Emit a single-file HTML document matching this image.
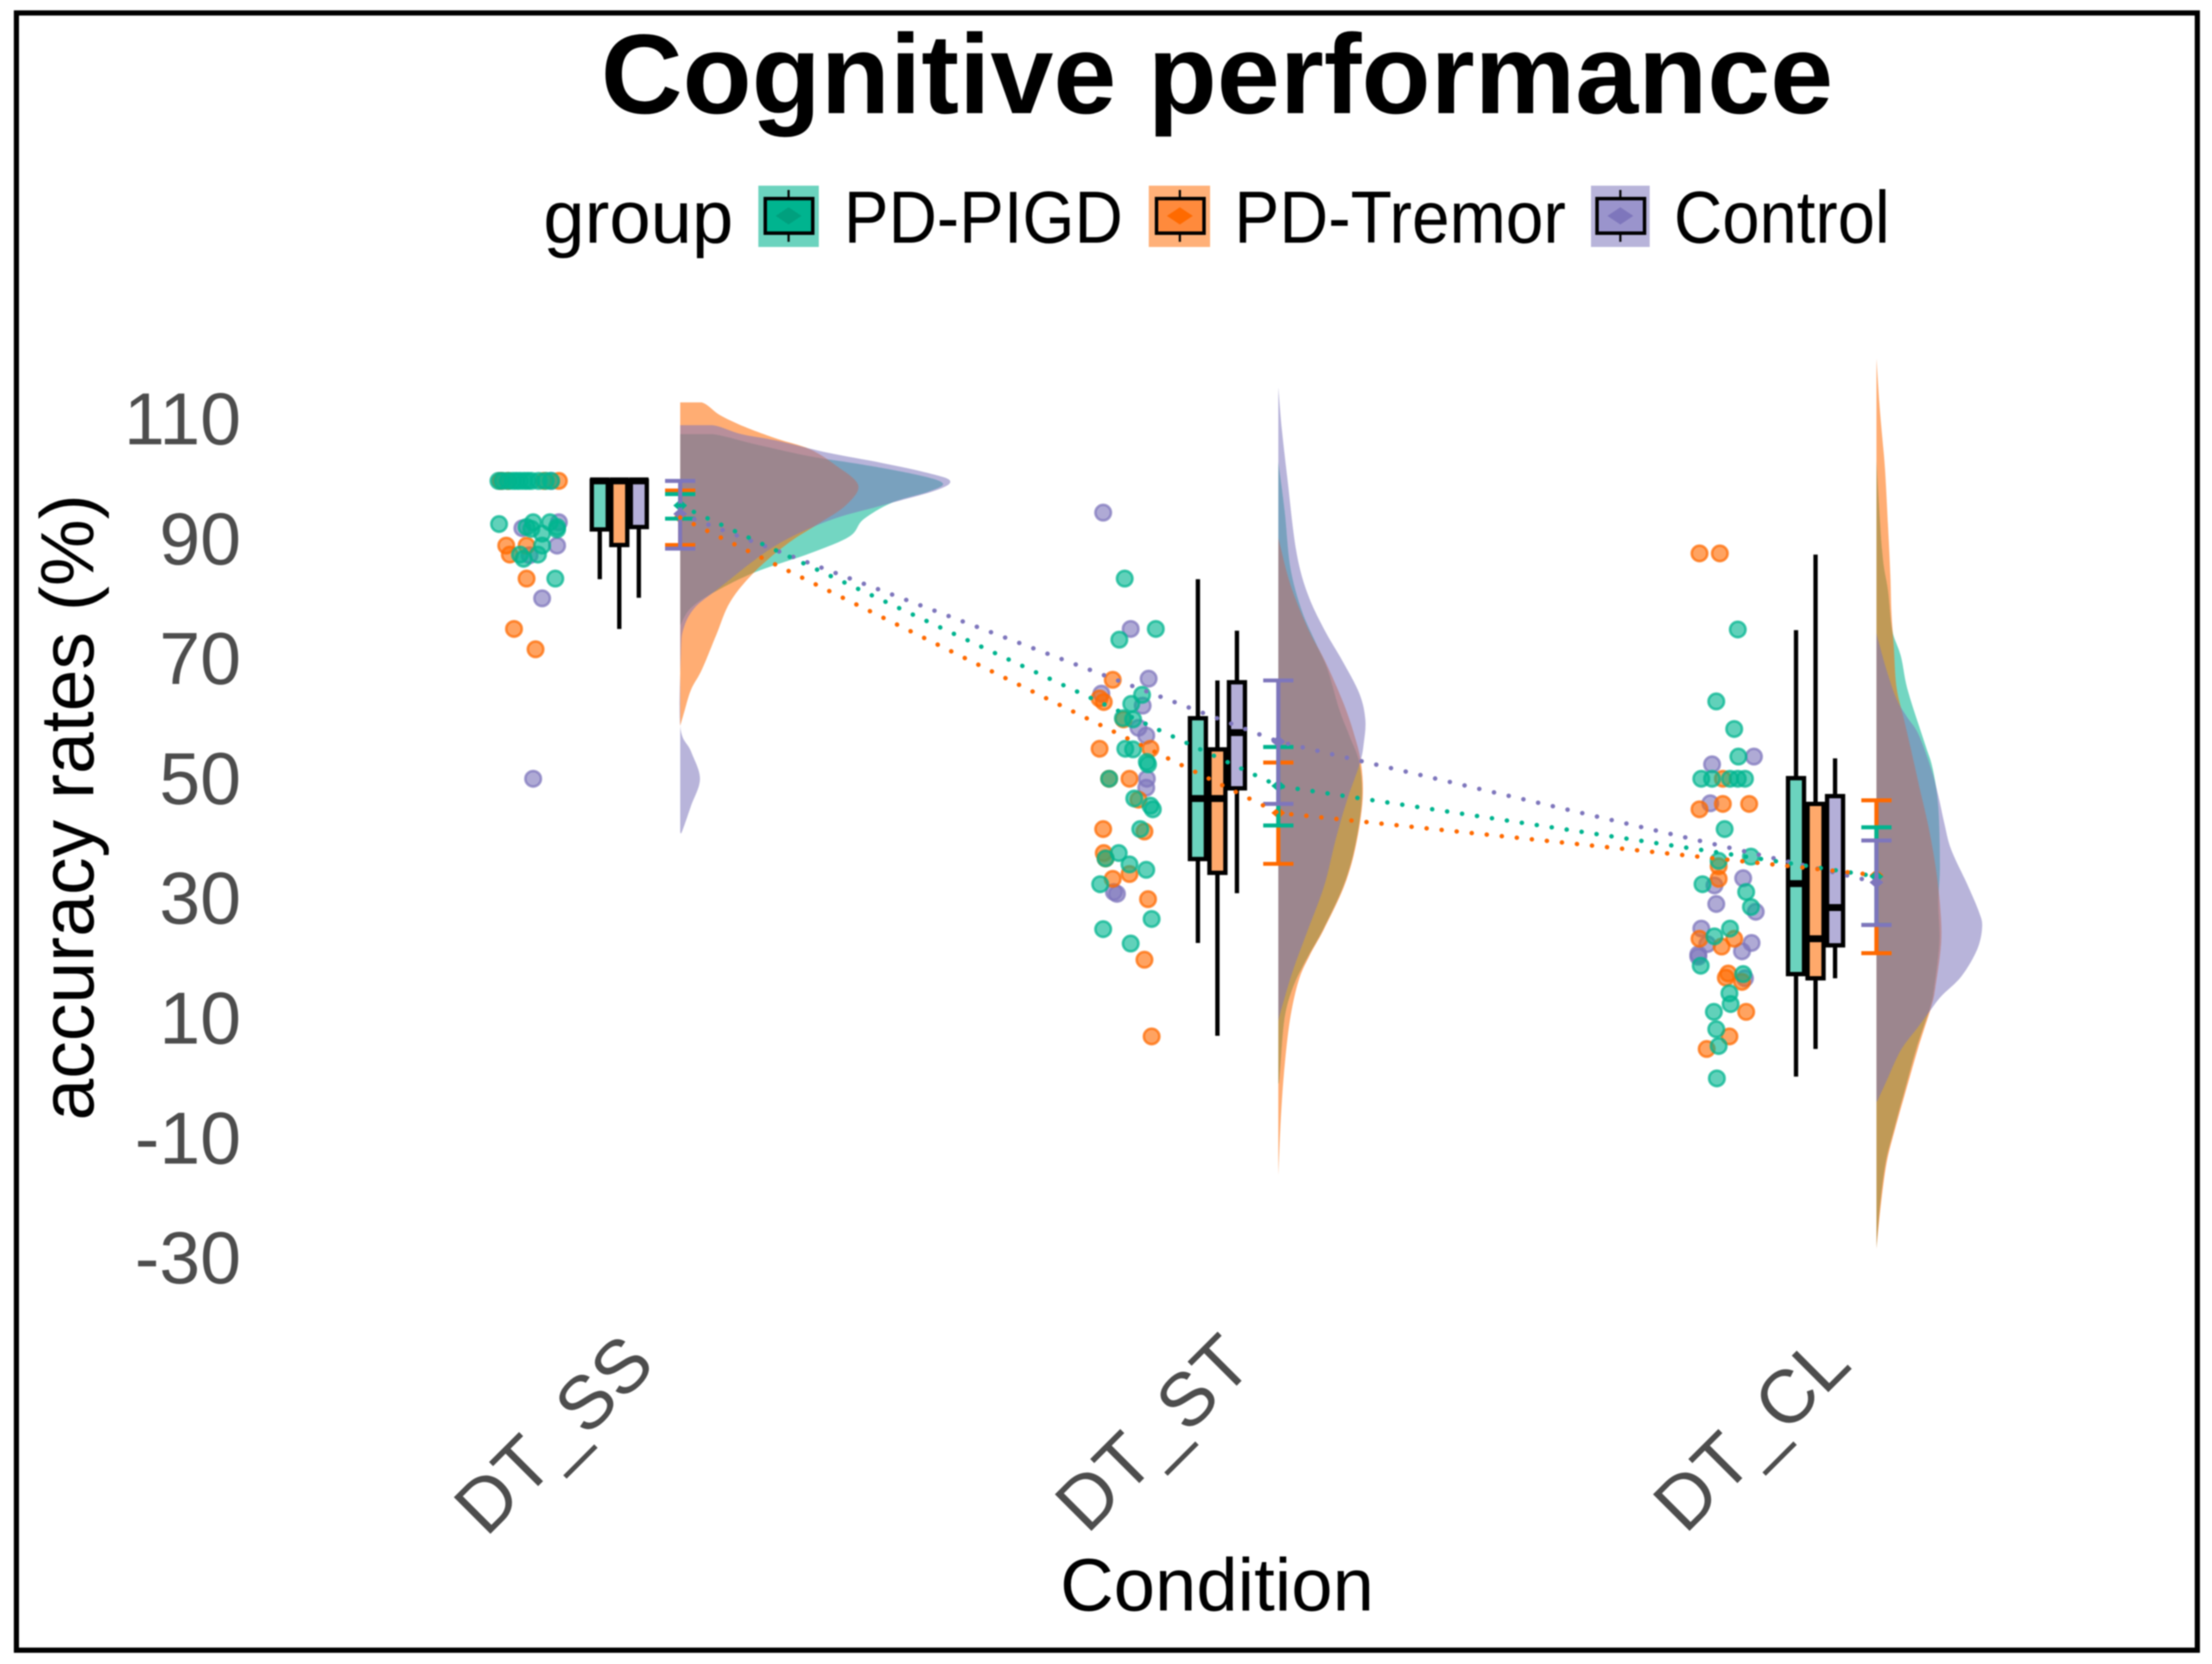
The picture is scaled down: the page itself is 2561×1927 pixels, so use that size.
<!DOCTYPE html>
<html lang="en">
<head>
<meta charset="utf-8">
<title>Cognitive performance</title>
<style>
html,body{margin:0;padding:0;background:#fff;width:2561px;height:1927px;overflow:hidden}
svg{display:block;filter:blur(0.9px)}
text{font-family:"Liberation Sans",sans-serif}
</style>
</head>
<body>
<svg id="chart" xmlns="http://www.w3.org/2000/svg" width="2561" height="1927" viewBox="0 0 2561 1927">
  <rect x="0" y="0" width="2561" height="1927" fill="#fff"/>
  <rect x="19" y="15" width="2525" height="1896" fill="none" stroke="#000" stroke-width="6"/>
  <text x="1409" y="131" font-size="131" font-weight="700" text-anchor="middle" fill="#000">Cognitive performance</text>
  <text x="629" y="281" font-size="86" fill="#000">group</text>
  <g>
    <rect x="878" y="215" width="70" height="71" fill="#00B48F" fill-opacity=".58"/>
    <line x1="913" x2="913" y1="220" y2="280" stroke="#000" stroke-width="2.5"/>
    <rect x="886" y="230" width="55" height="40" fill="#00B48F" stroke="#000" stroke-width="4"/>
    <path d="M898 250L913 240L928 250L913 260Z" fill="#00A07E"/>
    <text x="977" y="281" font-size="85" textLength="323" lengthAdjust="spacingAndGlyphs" fill="#000">PD-PIGD</text>
  </g>
  <g>
    <rect x="1330" y="215" width="71" height="71" fill="#FF6A00" fill-opacity=".53"/>
    <line x1="1366" x2="1366" y1="220" y2="280" stroke="#000" stroke-width="2.5"/>
    <rect x="1339" y="230" width="55" height="40" fill="#FF8A3C" stroke="#000" stroke-width="4"/>
    <path d="M1351 250L1366 240L1381 250L1366 260Z" fill="#FF6A00"/>
    <text x="1429" y="281" font-size="85" textLength="384" lengthAdjust="spacingAndGlyphs" fill="#000">PD-Tremor</text>
  </g>
  <g>
    <rect x="1842" y="215" width="68" height="71" fill="#7E76BC" fill-opacity=".55"/>
    <line x1="1876" x2="1876" y1="220" y2="280" stroke="#000" stroke-width="2.5"/>
    <rect x="1849" y="230" width="55" height="40" fill="#9A94CC" stroke="#000" stroke-width="4"/>
    <path d="M1861 250L1876 240L1891 250L1876 260Z" fill="#7E76BC"/>
    <text x="1938" y="281" font-size="85" textLength="250" lengthAdjust="spacingAndGlyphs" fill="#000">Control</text>
  </g>
  <text transform="translate(108,935) rotate(-90)" font-size="87" text-anchor="middle" fill="#000">accuracy rates (%)</text>
  <text x="1409" y="1865" font-size="86" text-anchor="middle" fill="#000">Condition</text>
  <g id="y-ticks"></g>
  <g id="x-ticks"></g>
  <g id="clouds"></g>
  <g id="points"></g>
  <g id="boxes"></g>
  <g id="errors"></g>
  <g id="lines"></g>
</svg>
<script>
const categories = ['DT_SS', 'DT_ST', 'DT_CL'];
const groupNames = ['pd-pigd', 'pd-tremor', 'control'];
const yTickLabels = [110, 90, 70, 50, 30, 10, -10, -30];

// Box-plot statistics, one entry per condition
const pigdWhiskerLow = [83.6, 22.9, 0.6];
const pigdQ1 = [91.9, 36.9, 17.7];
const pigdMedian = [100, 47, 32.8];
const pigdQ3 = [100, 60.4, 50.4];
const pigdWhiskerHigh = [100, 83.6, 75.1];
const tremorWhiskerLow = [75.3, 7.4, 5.2];
const tremorQ1 = [89.3, 34.6, 17];
const tremorMedian = [100, 47, 23.6];
const tremorQ3 = [100, 55.2, 46.1];
const tremorWhiskerHigh = [100, 66.7, 87.7];
const controlWhiskerLow = [80.5, 31.2, 17];
const controlQ1 = [92.3, 48.7, 22.5];
const controlMedian = [100, 58, 28.8];
const controlQ3 = [100, 66.4, 47.4];
const controlWhiskerHigh = [100, 75, 53.7];

// Means and confidence limits
const pigdMean = [95.9, 49.1, 34];
const pigdCiLow = [93.7, 42.5, 25.9];
const pigdCiHigh = [97.8, 55.6, 42.2];
const tremorMean = [93.9, 44.6, 34.2];
const tremorCiLow = [89.3, 36.1, 21.2];
const tremorCiHigh = [98.4, 53, 46.7];
const controlMean = [94.5, 56.5, 33];
const controlCiLow = [88.7, 46.1, 25.9];
const controlCiHigh = [100, 66.7, 40];

// Raw observations (value, and horizontal jitter in category units)
const ssPigdValues = [100,100,100,100,100,100,100,100,100,100,100,100,92.8,93.1,92.3,92,93.1,92.3,91.9,91.2,89.2,87.7,87.7,87,83.7];
const ssPigdJitter = [-.202,-.195,-.186,-.178,-.172,-.166,-.159,-.153,-.147,-.135,-.123,-.114,-.201,-.144,-.155,-.147,-.116,-.104,-.104,-.129,-.129,-.136,-.166,-.16,-.107];
const ssTremorValues = [100,100,100,100,89.2,87.7,89.2,83.7,75.3,71.9];
const ssTremorJitter = [-.198,-.186,-.126,-.101,-.189,-.183,-.155,-.155,-.176,-.14];
const ssControlValues = [100,100,92.1,93.1,89.2,87.6,80.4,50.3];
const ssControlJitter = [-.198,-.114,-.162,-.101,-.104,-.15,-.129,-.144];
const stPigdValues = [83.7,75.3,73.5,64.3,62.8,60.4,60.2,55.3,55.2,53.1,52.7,50.3,47,45.2,45.8,41.9,37,37.9,36,35.1,32.7,26.9,25.2,22.8];
const stPigdJitter = [-.155,-.103,-.164,-.126,-.144,-.158,-.141,-.154,-.141,-.118,-.116,-.181,-.139,-.108,-.112,-.129,-.187,-.165,-.147,-.119,-.196,-.11,-.191,-.145];
const stTremorValues = [66.8,63.7,63.1,60.2,55.3,55.3,50.3,50.3,46.8,41.9,41.5,37.9,37,34.4,33.6,30.2,20.1,7.3];
const stTremorJitter = [-.175,-.197,-.19,-.157,-.197,-.112,-.147,-.181,-.132,-.191,-.122,-.19,-.187,-.147,-.175,-.116,-.122,-.11];
const stControlValues = [94.7,75.3,67,64.5,62.5,58.8,57.5,50.3,48.8,31.1,31.4];
const stControlJitter = [-.191,-.145,-.115,-.194,-.125,-.132,-.119,-.118,-.119,-.168,-.173];
const clPigdValues = [75.2,63.2,58.6,54,50.3,50.3,50.3,50.3,50.3,41.9,36.6,37.3,32.7,31.4,28.9,25.3,24,19.1,17.7,14.5,12.7,11.4,8.5,5.7,0.3];
const clPigdJitter = [-.13,-.166,-.136,-.129,-.191,-.173,-.143,-.13,-.118,-.152,-.162,-.108,-.189,-.116,-.108,-.143,-.169,-.192,-.121,-.144,-.142,-.17,-.166,-.162,-.165];
const clTremorValues = [87.9,87.9,50.3,45.2,46.1,46.1,35.7,33.6,23.6,22.3,23.6,17.8,17.1,16.4,11.4,7.3,5.2];
const clTremorJitter = [-.194,-.16,-.155,-.194,-.155,-.111,-.162,-.162,-.194,-.157,-.136,-.146,-.15,-.123,-.116,-.144,-.182];
const clControlValues = [52.7,54,46.2,33.7,32.5,29.4,28.1,25.3,22.9,21.5,22.7,21,20.6,17];
const clControlJitter = [-.173,-.103,-.176,-.121,-.169,-.166,-.1,-.191,-.107,-.123,-.181,-.196,-.196,-.118];

// Density curves: grid of values and matching density heights
const ssPigdCloudV = [107.8,107.8,106.1,104.1,102.7,101,99.6,98.2,96.4,93.6,90.7,87.9,84.8,81.6,78.8,75.9];
const ssPigdCloudD = [0,12.1,28.2,48.4,68.5,88.7,98.1,92.7,79.3,68.5,63.2,48.4,28.2,13.4,4,0];
const ssTremorCloudV = [113.1,113.1,111,109,107,105.3,102.7,99.3,95.9,92.7,89.6,85,79.9,74.2,68.5,65.1,61.1,59.1];
const ssTremorCloudD = [0,8.1,14.8,24.2,36.3,48.4,57.8,66.5,61.8,51.1,40.3,28.2,18.8,13.4,8.1,4,1.3,0];
const ssControlCloudV = [109.3,109.3,107.8,106.7,104.7,103,101.3,100,98.4,95.9,93.3,89,82.2,78.8,75.4,71.4,59.1,54.9,50.3,45.7,41.5,41.4];
const ssControlCloudD = [0,12.1,22.8,36.3,55.1,75.3,92.7,100.8,95.4,75.3,55.1,34.9,14.8,5.4,1.3,0.3,0,4,7.4,4,0.7,0];
const stPigdCloudV = [103.2,94.9,85.5,78.3,72.8,68.4,61.8,57.4,52.9,46.9,39.2,32.5,25.3,20.4,15.4,9.9,0.5,-0.5];
const stPigdCloudD = [0,2.4,4.5,8.8,14.2,18.5,22.8,26.6,30.3,31.2,28.7,24.4,16.9,10.8,5.4,2.2,0.5,0];
const stTremorCloudV = [90.5,84.4,80,74.5,70,63.4,57.9,52.9,46.9,39.2,32.5,25.3,20.9,16.5,9.9,1.6,-6.7,-16];
const stTremorCloudD = [0,3.4,6.7,12,17.4,23.9,28.2,30.9,31.5,29,24.7,17.2,11.8,7.5,4.3,2.2,0.9,0];
const stControlCloudV = [115.6,108.7,100.4,88.3,81.1,75,70,64.5,60.1,56.2,52.9,46.9,40.3,32.5,24.8,18.2,12.6,9.9];
const stControlCloudD = [0,1.3,3.4,6.7,11,17.4,23.9,30.3,32.5,31.9,30.5,25.8,21.5,17.2,10.8,5.4,1.6,0];
const clPigdCloudV = [103.4,88,81.8,75.1,70.8,64.9,55.9,52,45.6,35.9,29.5,23,15.4,12.1,5.4,-1.3,-8.1,-13.8,-21,-28];
const clPigdCloudD = [0,2.2,4.3,5.9,9.1,11.8,18.3,21,23.1,23.7,23.1,23.5,21.5,20,15,10.8,6.6,3.4,1.3,0];
const clTremorCloudV = [120.4,113,107.2,102,92.8,84.2,78,72.2,65.5,60.4,55.2,48.8,42.4,35.9,29.5,23.1,15.4,12.1,5.4,-1.3,-8.1,-13.8,-21,-28.2];
const clTremorCloudD = [0,1.1,2.2,3.2,4.3,5.2,5.6,6.5,7.5,10.2,12.9,16.1,19.4,22,23.7,24.2,22,20.4,15.6,11.3,7,3.8,1.6,0];
const clControlCloudV = [74.6,72.7,68.4,63.6,60.7,57.8,52,47.5,43,38.5,32.7,28.2,25.6,21.8,17.3,14,11.5,8.9,5,-0.1,-3.3,-3.5];
const clControlCloudD = [0,1.1,3.8,7.5,11.3,15.6,20.4,23.1,25.3,27.9,33.9,38.2,39.5,37.6,31.7,24.2,19.9,15.6,9.1,3.8,0.5,0];

const seriesColors = ['#00B48F', '#FF6A00', '#7E76BC'];
const cloudOpacity = [.55, .55, .55];
const NS = 'http://www.w3.org/2000/svg';

function xCat(i) { return 717 + 692.5 * i; }
function xBox(i, g) { return xCat(i) + (g - 1) * 22.6; }
function xCloud(i) { return xCat(i) + 70.5; }
function xJitter(i, j) { return xCat(i) + j * 692.5; }
function yVal(v) { return 487.5 + (110 - v) * 6.94; }
function wDensity(d) { return d * 3.1; }

function mk(parent, tag, attrs) {
  const el = document.createElementNS(NS, tag);
  for (const k in attrs) el.setAttribute(k, attrs[k]);
  parent.appendChild(el);
  return el;
}

function smoothPath(pts) {
  let d = 'M' + pts[0][0].toFixed(1) + ' ' + pts[0][1].toFixed(1);
  for (let i = 0; i < pts.length - 1; i++) {
    const p0 = pts[Math.max(i - 1, 0)], p1 = pts[i], p2 = pts[i + 1], p3 = pts[Math.min(i + 2, pts.length - 1)];
    const flat = Math.abs(p1[1] - p2[1]) < 0.01;
    const c1 = flat ? p1 : [p1[0] + (p2[0] - p0[0]) / 6, p1[1] + (p2[1] - p0[1]) / 6];
    const c2 = flat ? p2 : [p2[0] - (p3[0] - p1[0]) / 6, p2[1] - (p3[1] - p1[1]) / 6];
    d += 'C' + c1[0].toFixed(1) + ' ' + c1[1].toFixed(1) + ' ' + c2[0].toFixed(1) + ' ' + c2[1].toFixed(1) + ' ' + p2[0].toFixed(1) + ' ' + p2[1].toFixed(1);
  }
  return d + 'Z';
}

// Y axis tick labels
const yTicksG = document.getElementById('y-ticks');
yTickLabels.forEach(function (t) {
  const el = mk(yTicksG, 'text', { x: 279, y: yVal(t) + 27, 'font-size': 85, 'text-anchor': 'end', fill: '#4D4D4D' });
  
  
  el.textContent = String(t);
});

// X axis tick labels
const xTicksG = document.getElementById('x-ticks');
categories.forEach(function (c, i) {
  const el = mk(xTicksG, 'text', { transform: 'translate(' + (xCat(i) + 44) + ',1583) rotate(-45)', 'font-size': 87, 'text-anchor': 'end', fill: '#4D4D4D' });
  
  
  el.textContent = c;
});

// Density clouds (order: PD-PIGD, PD-Tremor, Control)
const cloudV = [
  [ssPigdCloudV, ssTremorCloudV, ssControlCloudV],
  [stPigdCloudV, stTremorCloudV, stControlCloudV],
  [clPigdCloudV, clTremorCloudV, clControlCloudV]
];
const cloudD = [
  [ssPigdCloudD, ssTremorCloudD, ssControlCloudD],
  [stPigdCloudD, stTremorCloudD, stControlCloudD],
  [clPigdCloudD, clTremorCloudD, clControlCloudD]
];
const cloudsG = document.getElementById('clouds');
categories.forEach(function (c, i) {
  [0, 1, 2].forEach(function (g) {
    const pts = cloudV[i][g].map(function (v, k) { return [xCloud(i) + wDensity(cloudD[i][g][k]), yVal(v)]; });
    const el = mk(cloudsG, 'path', { d: smoothPath(pts), fill: seriesColors[g], 'fill-opacity': cloudOpacity[g] });
    
    
  });
});

// Raw points: drawn Control first, PD-PIGD last
const pointValues = [
  [ssPigdValues, ssTremorValues, ssControlValues],
  [stPigdValues, stTremorValues, stControlValues],
  [clPigdValues, clTremorValues, clControlValues]
];
const pointJitter = [
  [ssPigdJitter, ssTremorJitter, ssControlJitter],
  [stPigdJitter, stTremorJitter, stControlJitter],
  [clPigdJitter, clTremorJitter, clControlJitter]
];
const pointsG = document.getElementById('points');
categories.forEach(function (c, i) {
  [2, 1, 0].forEach(function (g) {
    pointValues[i][g].forEach(function (v, k) {
      const el = mk(pointsG, 'circle', {
        cx: xJitter(i, pointJitter[i][g][k]), cy: yVal(v), r: 9,
        fill: seriesColors[g], 'fill-opacity': .62,
        stroke: seriesColors[g], 'stroke-opacity': .72, 'stroke-width': 3
      });
      
      
    });
  });
});

// Box plots
const whiskerLow = [pigdWhiskerLow, tremorWhiskerLow, controlWhiskerLow];
const boxQ1 = [pigdQ1, tremorQ1, controlQ1];
const boxMedian = [pigdMedian, tremorMedian, controlMedian];
const boxQ3 = [pigdQ3, tremorQ3, controlQ3];
const whiskerHigh = [pigdWhiskerHigh, tremorWhiskerHigh, controlWhiskerHigh];
const boxesG = document.getElementById('boxes');
const boxW = 18.5;
categories.forEach(function (c, i) {
  [0, 1, 2].forEach(function (g) {
    const x = xBox(i, g);
    const lo = mk(boxesG, 'line', { x1: x, x2: x, y1: yVal(boxQ1[g][i]), y2: yVal(whiskerLow[g][i]), stroke: '#000', 'stroke-width': 5 });
    
    
    const hi = mk(boxesG, 'line', { x1: x, x2: x, y1: yVal(boxQ3[g][i]), y2: yVal(whiskerHigh[g][i]), stroke: '#000', 'stroke-width': 5 });
    
    
    const back = mk(boxesG, 'rect', { x: x - boxW / 2, y: yVal(boxQ3[g][i]), width: boxW, height: yVal(boxQ1[g][i]) - yVal(boxQ3[g][i]), fill: '#fff' });
    
    
    const box = mk(boxesG, 'rect', { x: x - boxW / 2, y: yVal(boxQ3[g][i]), width: boxW, height: yVal(boxQ1[g][i]) - yVal(boxQ3[g][i]), fill: seriesColors[g], 'fill-opacity': .58, stroke: '#000', 'stroke-width': 5 });
    
    
    const med = mk(boxesG, 'line', { x1: x - boxW / 2 - 2, x2: x + boxW / 2 + 2, y1: yVal(boxMedian[g][i]), y2: yVal(boxMedian[g][i]), stroke: '#000', 'stroke-width': 8 });
    
    
  });
});

// Error bars and means
const ciLow = [pigdCiLow, tremorCiLow, controlCiLow];
const ciHigh = [pigdCiHigh, tremorCiHigh, controlCiHigh];
const means = [pigdMean, tremorMean, controlMean];
const errorsG = document.getElementById('errors');
const capHalf = 17.5;
categories.forEach(function (c, i) {
  [1, 0, 2].forEach(function (g) {
    const x = xCloud(i);
    const stem = mk(errorsG, 'line', { x1: x, x2: x, y1: yVal(ciLow[g][i]), y2: yVal(ciHigh[g][i]), stroke: seriesColors[g], 'stroke-width': 4.8 });
    
    
    const capL = mk(errorsG, 'line', { x1: x - capHalf, x2: x + capHalf, y1: yVal(ciLow[g][i]), y2: yVal(ciLow[g][i]), stroke: seriesColors[g], 'stroke-width': 4.6 });
    
    
    const capH = mk(errorsG, 'line', { x1: x - capHalf, x2: x + capHalf, y1: yVal(ciHigh[g][i]), y2: yVal(ciHigh[g][i]), stroke: seriesColors[g], 'stroke-width': 4.6 });
    
    
    const my = yVal(means[g][i]);
    const dia = mk(errorsG, 'path', { d: 'M' + (x - 8) + ' ' + my + 'L' + x + ' ' + (my - 7) + 'L' + (x + 8) + ' ' + my + 'L' + x + ' ' + (my + 7) + 'Z', fill: seriesColors[g] });
    
    
  });
});

// Dotted mean trend lines
const linesG = document.getElementById('lines');
[2, 0, 1].forEach(function (g) {
  const pts = categories.map(function (c, i) { return xCloud(i) + ',' + yVal(means[g][i]); }).join(' ');
  const el = mk(linesG, 'polyline', { points: pts, fill: 'none', stroke: seriesColors[g], 'stroke-width': 5.2, 'stroke-linecap': 'round', 'stroke-dasharray': '0.1 17.4' });
  
  
});
</script>
</body>
</html>
